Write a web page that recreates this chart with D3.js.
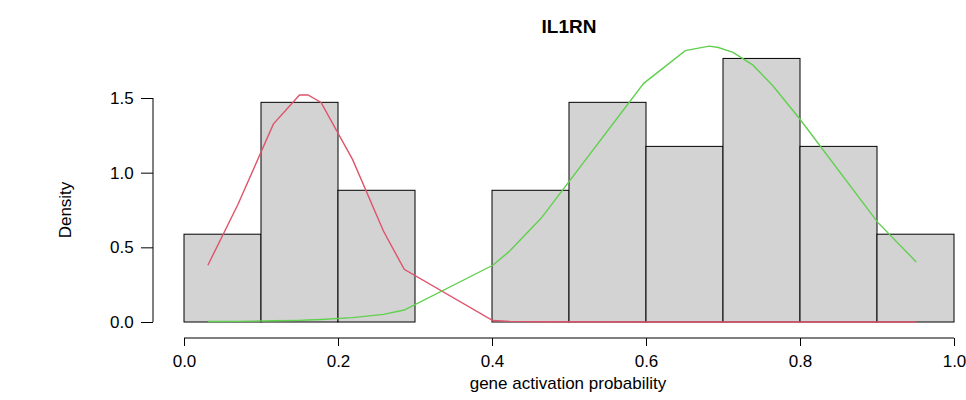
<!DOCTYPE html>
<html>
<head>
<meta charset="utf-8">
<script src="https://cdn.jsdelivr.net/npm/d3@7"></script>
<style>
  body { margin: 0; background: #fff; }
  text { font-family: "Liberation Sans", Arial, sans-serif; }
</style>
</head>
<body>
<div id="chart"></div>
<script>
// histogram bins (density) and fitted component curves
const binEdges = [0, 0.1, 0.2, 0.3, 0.4, 0.5, 0.6, 0.7, 0.8, 0.9, 1.0];
const binDensity = [0.588, 1.471, 0.882, 0, 0.882, 1.471, 1.176, 1.765, 1.176, 0.588];

const curveX = [0.031, 0.070, 0.116, 0.150, 0.161, 0.178, 0.219, 0.259, 0.286, 0.401, 0.423, 0.464,
  0.597, 0.651, 0.682, 0.694, 0.713, 0.739, 0.765, 0.800, 0.901, 0.951];
const redY = [0.38, 0.787, 1.325, 1.52, 1.52, 1.47, 1.087, 0.609, 0.353, 0.01, 0.004, 0.002,
  0, 0, 0, 0, 0, 0, 0, 0, 0, 0];
const greenY = [0.003, 0.004, 0.008, 0.011, 0.013, 0.017, 0.029, 0.051, 0.08, 0.38, 0.475, 0.696,
  1.598, 1.817, 1.847, 1.838, 1.805, 1.72, 1.58, 1.358, 0.667, 0.402];

const xTicks = [0, 0.2, 0.4, 0.6, 0.8, 1.0];
const yTicks = [0, 0.5, 1.0, 1.5];

const width = 966, height = 400;

let svg = d3.select("#chart")
    .append("svg")
    .attr("width", width)
    .attr("height", height);

const x = d3.scaleLinear().domain([0, 1]).range([184, 954]);
const y = d3.scaleLinear().domain([0, 1.5]).range([322, 98]);

//bars
let bins = binDensity.map((d, i) => ({ x0: binEdges[i], x1: binEdges[i + 1], d: d }));
svg.selectAll("rect.bar")
    .data(bins)
    .enter()
    .append("rect")
    .attr("class", "bar")
    .attr("x", (d) => x(d.x0))
    .attr("y", (d) => y(d.d))
    .attr("width", (d) => x(d.x1) - x(d.x0))
    .attr("height", (d) => y(0) - y(d.d))
    .attr("fill", "#d3d3d3")
    .attr("stroke", "#000")
    .attr("stroke-width", 1);

//component curves
const line = d3.line()
    .x((d) => x(d[0]))
    .y((d) => y(d[1]));

[[redY, "#DF536B"], [greenY, "#61D04F"]].forEach(([vals, col]) => {
    svg.append("path")
        .datum(curveX.map((v, i) => [v, vals[i]]))
        .attr("d", line)
        .attr("fill", "none")
        .attr("stroke", col)
        .attr("stroke-width", 1.4);
});

//x axis
let xAxis = svg.append("g")
    .attr("transform", "translate(0,338)")
    .call(d3.axisBottom(x).tickValues(xTicks).tickFormat(d3.format(".1f")).tickSize(8).tickSizeOuter(0));
xAxis.select(".domain").attr("d", `M${x(0)},0H${x(1)}`);

//y axis
let yAxis = svg.append("g")
    .attr("transform", "translate(153,0)")
    .call(d3.axisLeft(y).tickValues(yTicks).tickFormat(d3.format(".1f")).tickSize(12).tickSizeOuter(0));
yAxis.select(".domain").attr("d", `M0,${y(0)}V${y(1.5)}`);

svg.selectAll(".tick text")
    .style("font-family", "Liberation Sans, Arial, sans-serif")
    .style("font-size", "17px")
    .attr("fill", "#000");
xAxis.selectAll(".tick text").attr("dy", "1.05em");
yAxis.selectAll(".tick text").attr("dx", "-0.25em");
svg.selectAll(".domain, .tick line").attr("stroke", "#000");

//labels
svg.append("text")
    .attr("x", 569)
    .attr("y", 33)
    .attr("text-anchor", "middle")
    .style("font-size", "19px")
    .style("font-weight", "bold")
    .text("IL1RN");

svg.append("text")
    .attr("x", 568)
    .attr("y", 389)
    .attr("text-anchor", "middle")
    .style("font-size", "17px")
    .text("gene activation probability");

svg.append("text")
    .attr("transform", "translate(71,210) rotate(-90)")
    .attr("text-anchor", "middle")
    .style("font-size", "17px")
    .text("Density");
</script>
</body>
</html>
